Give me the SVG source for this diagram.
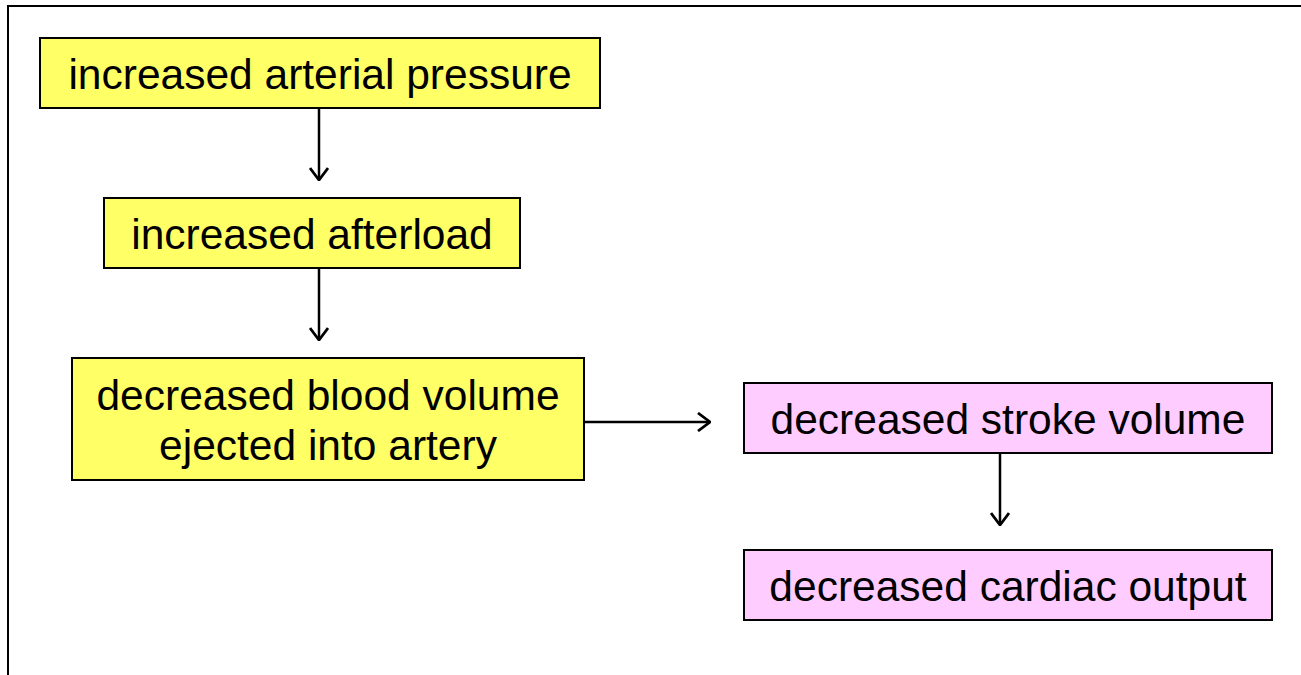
<svg xmlns="http://www.w3.org/2000/svg" width="1301" height="675" viewBox="0 0 1301 675">
<style>
.box{stroke:#000;stroke-width:2}
.y{fill:#FFFF66}
.p{fill:#FFCCFF}
.t{font-family:"Liberation Sans",Arial,sans-serif;font-size:42.5px;fill:#000;text-anchor:middle}
.c{stroke:#000;stroke-width:2.5;fill:none}
</style>
<defs>
<marker id="ah" viewBox="0 0 14 20" refX="13" refY="10" markerWidth="14" markerHeight="20" markerUnits="userSpaceOnUse" orient="auto">
<path d="M1,1 L13,10 L1,19" fill="none" stroke="#000" stroke-width="2.8"/>
</marker>
</defs>
<rect x="0" y="0" width="1301" height="675" fill="#fff"/>
<path d="M8,675 V6 H1301" fill="none" stroke="#000" stroke-width="2"/>
<g id="n1"><rect class="box y" x="40" y="38" width="560" height="70"/><text class="t" x="320" y="89">increased arterial pressure</text></g>
<g id="n2"><rect class="box y" x="104" y="198" width="416" height="70"/><text class="t" x="312" y="249">increased afterload</text></g>
<g id="n3"><rect class="box y" x="72" y="358" width="512" height="122"/><text class="t" x="328" y="410">decreased blood volume</text><text class="t" x="328" y="460">ejected into artery</text></g>
<g id="n4"><rect class="box p" x="744" y="383" width="528" height="70"/><text class="t" x="1008" y="434">decreased stroke volume</text></g>
<g id="n5"><rect class="box p" x="744" y="550" width="528" height="70"/><text class="t" x="1008" y="601">decreased cardiac output</text></g>
<g id="connectors">
<line class="c" x1="319" y1="108" x2="319" y2="180" marker-end="url(#ah)"/>
<line class="c" x1="319" y1="268" x2="319" y2="340" marker-end="url(#ah)"/>
<line class="c" x1="584" y1="422" x2="710" y2="422" marker-end="url(#ah)"/>
<line class="c" x1="1000" y1="453" x2="1000" y2="525" marker-end="url(#ah)"/>
</g>
</svg>
